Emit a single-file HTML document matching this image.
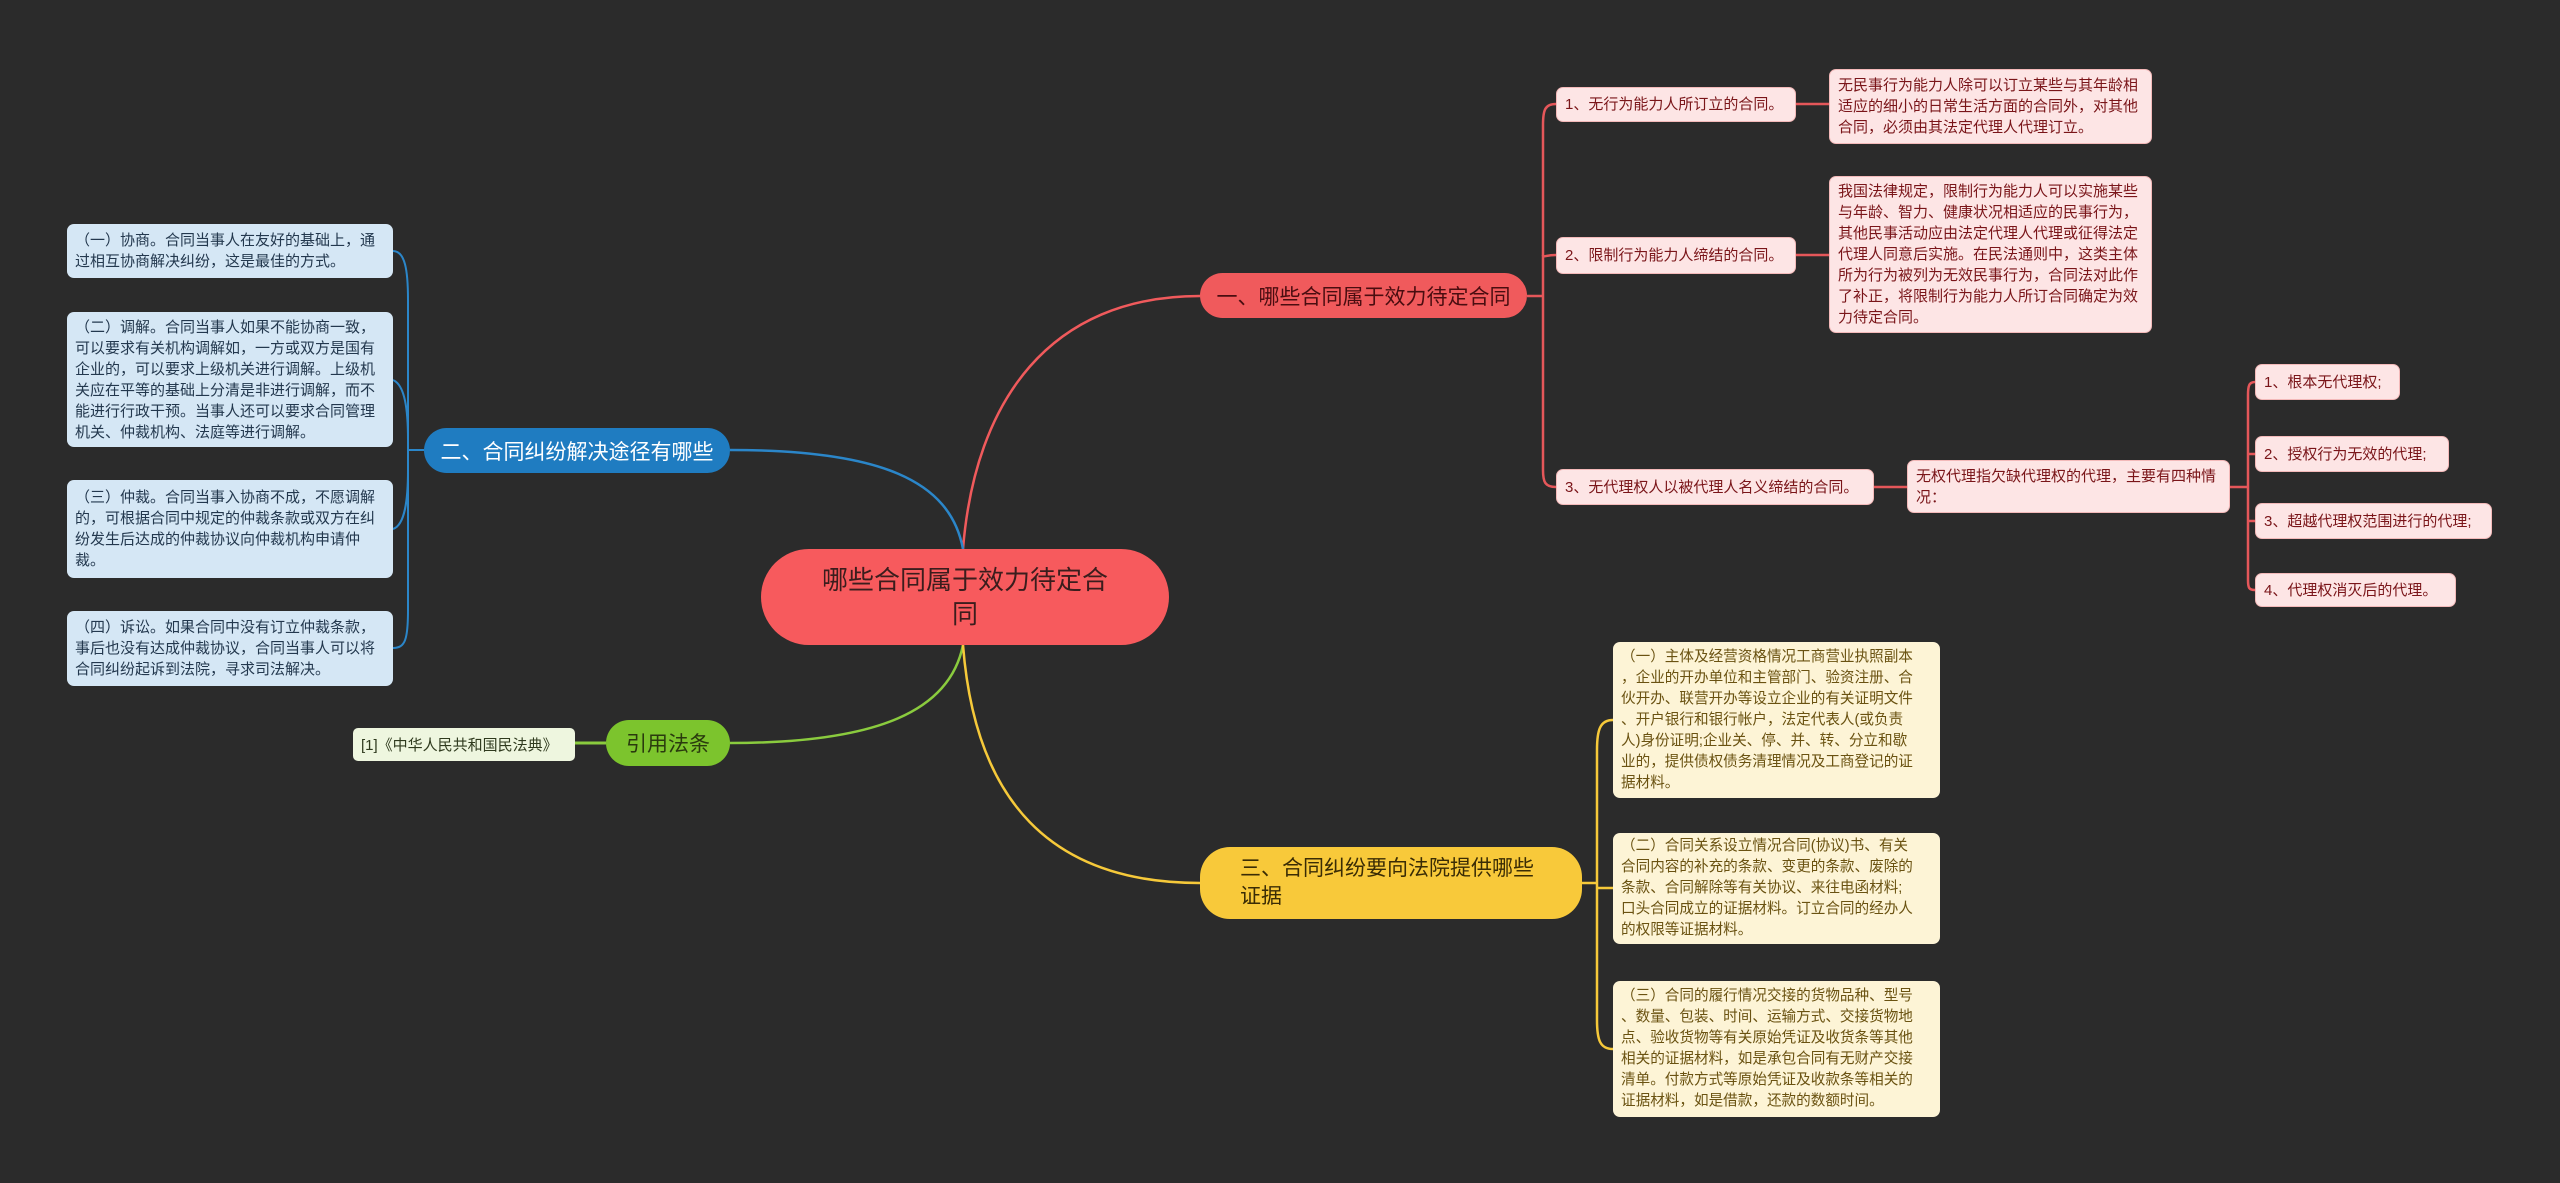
<!DOCTYPE html>
<html><head><meta charset="utf-8"><style>
body{margin:0;width:2560px;height:1183px;background:#2b2b2b;overflow:hidden;position:relative;font-family:"Liberation Sans","Noto Sans CJK SC",sans-serif}
.b{position:absolute;box-sizing:border-box;display:flex;align-items:center;border-radius:7px}
.r{background:#fde5e5;color:#7a1519;font-size:15px;line-height:21px;padding:3px 8px;border:1px solid #f3b9b9}
.s{white-space:nowrap}
.bl{background:#d5e7f5;color:#23384e;font-size:15px;line-height:21px;padding:3px 8px}
.y{background:#fdf4d6;color:#6a5211;font-size:14.6px;line-height:21px;padding:3px 8px;white-space:nowrap}
.br{justify-content:center;border-radius:24px;font-size:21px;white-space:nowrap}
svg{position:absolute;left:0;top:0}
</style></head><body>
<svg width="2560" height="1183" fill="none">
<g stroke-width="2.5">
<path d="M963 549 C975 400 1050 296 1200 296" stroke="#f05a5c"/>
<path d="M963 549 C950 480 880 450 730 450" stroke="#2b86c9"/>
<path d="M963 645 C950 710 880 743 730 743" stroke="#8acb3e"/>
<path d="M963 645 C975 800 1050 883 1200 883" stroke="#f6c93a"/>
</g>
<g stroke="#e5575a" stroke-width="2.5">
<path d="M1527 296 H1543"/>
<path d="M1556 104 C1545 104 1543 110 1543 125 V470 C1543 482 1545 487 1556 487"/>
<path d="M1543 255 C1543 258 1545 255 1556 255"/>
<path d="M1796 104 H1829 M1796 255 H1829 M1874 487 H1907 M2230 487 H2248"/>
<path d="M2255 382 C2249 382 2248 386 2248 395 V580 C2248 588 2249 590 2255 590"/>
<path d="M2248 454 H2255 M2248 521 H2255"/>
</g>
<g stroke="#2b86c9" stroke-width="2">
<path d="M424 450 H408"/>
<path d="M393 251 C405 251 408 270 408 300 V610 C408 640 405 648 393 648"/>
<path d="M393 380 C405 385 408 410 408 440 M393 529 C405 525 408 500 408 470"/>
</g>
<path d="M606 743 H575" stroke="#8acb3e" stroke-width="3"/>
<g stroke="#f6c93a" stroke-width="2.5">
<path d="M1582 883 H1597"/>
<path d="M1613 720 C1600 720 1597 730 1597 750 V1020 C1597 1040 1600 1049 1613 1049"/>
<path d="M1597 888 H1613"/>
</g>
</svg>

<div class="b" style="left:761px;top:549px;width:408px;height:96px;background:#f75a5d;color:#3b1d1d;font-size:26px;line-height:34px;border-radius:48px;text-align:center;justify-content:center;padding:0 55px">哪些合同属于效力待定合同</div>

<div class="b br" style="left:1200px;top:273px;width:327px;height:45px;background:#f05a5c;color:#4a0d10">一、哪些合同属于效力待定合同</div>
<div class="b r s" style="left:1556px;top:87px;width:240px;height:35px">1、无行为能力人所订立的合同。</div>
<div class="b r" style="left:1829px;top:69px;width:323px;height:75px">无民事行为能力人除可以订立某些与其年龄相适应的细小的日常生活方面的合同外，对其他合同，必须由其法定代理人代理订立。</div>
<div class="b r s" style="left:1556px;top:237px;width:240px;height:37px">2、限制行为能力人缔结的合同。</div>
<div class="b r" style="left:1829px;top:176px;width:323px;height:157px">我国法律规定，限制行为能力人可以实施某些与年龄、智力、健康状况相适应的民事行为，其他民事活动应由法定代理人代理或征得法定代理人同意后实施。在民法通则中，这类主体所为行为被列为无效民事行为，合同法对此作了补正，将限制行为能力人所订合同确定为效力待定合同。</div>
<div class="b r s" style="left:1556px;top:469px;width:318px;height:36px">3、无代理权人以被代理人名义缔结的合同。</div>
<div class="b r" style="left:1907px;top:460px;width:323px;height:53px">无权代理指欠缺代理权的代理，主要有四种情况：</div>
<div class="b r s" style="left:2255px;top:364px;width:145px;height:36px">1、根本无代理权;</div>
<div class="b r s" style="left:2255px;top:436px;width:194px;height:36px">2、授权行为无效的代理;</div>
<div class="b r s" style="left:2255px;top:503px;width:237px;height:36px">3、超越代理权范围进行的代理;</div>
<div class="b r s" style="left:2255px;top:573px;width:201px;height:34px">4、代理权消灭后的代理。</div>

<div class="b br" style="left:424px;top:428px;width:306px;height:45px;background:#1f7cc1;color:#fff">二、合同纠纷解决途径有哪些</div>
<div class="b bl" style="left:67px;top:224px;width:326px;height:54px">（一）协商。合同当事人在友好的基础上，通过相互协商解决纠纷，这是最佳的方式。</div>
<div class="b bl" style="left:67px;top:312px;width:326px;height:135px">（二）调解。合同当事人如果不能协商一致，可以要求有关机构调解如，一方或双方是国有企业的，可以要求上级机关进行调解。上级机关应在平等的基础上分清是非进行调解，而不能进行行政干预。当事人还可以要求合同管理机关、仲裁机构、法庭等进行调解。</div>
<div class="b bl" style="left:67px;top:480px;width:326px;height:98px">（三）仲裁。合同当事入协商不成，不愿调解的，可根据合同中规定的仲裁条款或双方在纠纷发生后达成的仲裁协议向仲裁机构申请仲裁。</div>
<div class="b bl" style="left:67px;top:611px;width:326px;height:75px">（四）诉讼。如果合同中没有订立仲裁条款，事后也没有达成仲裁协议，合同当事人可以将合同纠纷起诉到法院，寻求司法解决。</div>

<div class="b br" style="left:606px;top:720px;width:124px;height:46px;background:#7cc42d;color:#2a3a0e">引用法条</div>
<div class="b s" style="left:353px;top:728px;width:222px;height:33px;background:#eef6df;color:#2f3a1e;font-size:15px;padding:0 8px;border-radius:5px">[1]《中华人民共和国民法典》</div>

<div class="b" style="left:1200px;top:847px;width:382px;height:72px;background:#f8c93a;color:#3a2c05;font-size:21px;padding:0 40px;line-height:28px;border-radius:30px">三、合同纠纷要向法院提供哪些证据</div>
<div class="b y" style="left:1613px;top:642px;width:327px;height:156px"><div>（一）主体及经营资格情况工商营业执照副本<br>，企业的开办单位和主管部门、验资注册、合<br>伙开办、联营开办等设立企业的有关证明文件<br>、开户银行和银行帐户，法定代表人(或负责<br>人)身份证明;企业关、停、并、转、分立和歇<br>业的，提供债权债务清理情况及工商登记的证<br>据材料。</div></div>
<div class="b y" style="left:1613px;top:833px;width:327px;height:111px"><div>（二）合同关系设立情况合同(协议)书、有关<br>合同内容的补充的条款、变更的条款、废除的<br>条款、合同解除等有关协议、来往电函材料;<br>口头合同成立的证据材料。订立合同的经办人<br>的权限等证据材料。</div></div>
<div class="b y" style="left:1613px;top:981px;width:327px;height:136px"><div>（三）合同的履行情况交接的货物品种、型号<br>、数量、包装、时间、运输方式、交接货物地<br>点、验收货物等有关原始凭证及收货条等其他<br>相关的证据材料，如是承包合同有无财产交接<br>清单。付款方式等原始凭证及收款条等相关的<br>证据材料，如是借款，还款的数额时间。</div></div>
</body></html>
